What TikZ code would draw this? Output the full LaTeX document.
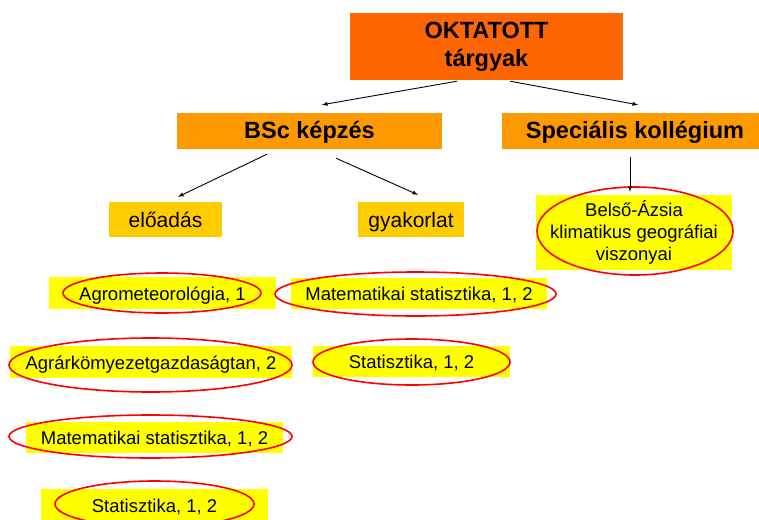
\documentclass[tikz,border=0pt]{standalone}
\usepackage{fontspec}
\setmainfont{Liberation Sans}
\usepackage{tikz}
\usetikzlibrary{arrows}
\tikzset{>=latex}
\definecolor{darkorange}{RGB}{255,102,0}
\definecolor{midorange}{RGB}{255,153,0}
\definecolor{goldbox}{RGB}{255,204,0}
\definecolor{leafyellow}{RGB}{255,255,0}
\tikzset{
  headbox/.style={fill=darkorange, inner sep=0pt, align=center, font=\fontsize{23.5}{28}\selectfont\bfseries},
  subbox/.style={fill=midorange, inner sep=0pt, minimum height=36pt, text height=24pt, text depth=10pt, font=\fontsize{23.5}{28}\selectfont\bfseries},
  kindbox/.style={fill=goldbox, inner sep=0pt, minimum height=35pt, text height=21pt, text depth=6pt, font=\fontsize{21}{25}\selectfont},
  blockbox/.style={fill=leafyellow, inner sep=0pt, align=center, font=\fontsize{18.5}{22}\selectfont},
  leafbox/.style={blockbox, text height=18.5pt, text depth=4.5pt},
  ring/.style={draw=red, line width=1.6pt},
  link/.style={->, line width=0.9pt}
}

\begin{document}
\begin{tikzpicture}[x=1pt,y=-1pt]
    \useasboundingbox (0,0) rectangle (759,519);
    \clip (0,0) rectangle (759,519);
    \node [headbox, minimum width=273pt, minimum height=67pt] (targy) at (486.5,46.5) {OKTATOTT\\tárgyak};
    \node [subbox, minimum width=265pt] (bsc) at (309.5,131) {BSc képzés};
    \node [subbox, minimum width=266pt] (spec) at (635,131) {Speciális kollégium};
    \node [kindbox, minimum width=113pt] (eloadas) at (165.5,219.5) {előadás};
    \node [kindbox, minimum width=106pt] (gyak) at (411,219.5) {gyakorlat};
    \node [blockbox, minimum width=196pt, minimum height=75pt] (belso) at (634,232.5) {Belső-Ázsia\\klimatikus geográfiai\\viszonyai};
    % eloadas column
    \node [leafbox, minimum width=227pt, minimum height=32pt] (agro) at (162.5,293) {Agrometeorológia, 1};
    \node [leafbox, minimum width=282pt, minimum height=32pt] (agrar) at (151,362) {Agrárkömyezetgazdaságtan, 2};
    \node [leafbox, minimum width=257pt, minimum height=31pt] (matel) at (154.5,437.5) {Matematikai statisztika, 1, 2};
    \node [leafbox, minimum width=227pt, minimum height=32pt] (statel) at (154.5,505) {Statisztika, 1, 2};
    % gyakorlat column
    \node [leafbox, minimum width=256pt, minimum height=31pt] (matgy) at (419,293.5) {Matematikai statisztika, 1, 2};
    \node [leafbox, minimum width=197pt, minimum height=31pt] (statgy) at (411.5,361.5) {Statisztika, 1, 2};
    % red rings
    \draw [ring] ([xshift=1pt,yshift=1.5pt]belso.center) ellipse (98pt and 44pt);
    \draw [ring] ([xshift=-0.5pt]agro.center) ellipse (99pt and 20pt);
    \draw [ring] ([xshift=-0.5pt,yshift=-3pt]agrar.center) ellipse (141.5pt and 27pt);
    \draw [ring] ([xshift=-4pt,yshift=1pt]matel.center) ellipse (141.5pt and 21.5pt);
    \draw [ring] ([yshift=1pt]statel.center) ellipse (99.5pt and 23pt);
    \draw [ring] ([xshift=-3.5pt,yshift=-0.5pt]matgy.center) ellipse (140.5pt and 22pt);
    \draw [ring] ([yshift=-0.5pt]statgy.center) ellipse (98.5pt and 23pt);
    % arrows
    \draw [link] ([xshift=-29.5pt,yshift=-1pt]targy.south) -- ([xshift=12.5pt,yshift=8pt]bsc.north);
    \draw [link] ([xshift=23.5pt,yshift=-1pt]targy.south) -- ([xshift=3pt,yshift=8pt]spec.north);
    \draw [link] ([xshift=-42.5pt,yshift=-5pt]bsc.south) -- ([xshift=12.5pt,yshift=5pt]eloadas.north);
    \draw [link] ([xshift=26.5pt,yshift=-9pt]bsc.south) -- ([xshift=7pt,yshift=7pt]gyak.north);
    \draw [link] ([xshift=-5pt,yshift=-8pt]spec.south) -- ([xshift=-4pt,yshift=3pt]belso.north);
\end{tikzpicture}
\end{document}
